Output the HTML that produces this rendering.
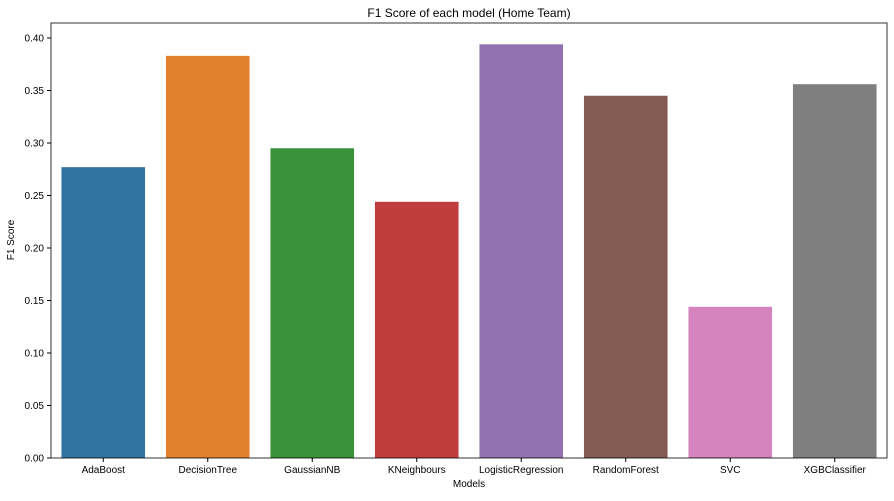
<!DOCTYPE html>
<html><head><meta charset="utf-8"><style>
body{margin:0;background:#fff;font-family:"Liberation Sans",sans-serif}
</style></head><body>
<svg id="chart" width="894" height="496" xmlns="http://www.w3.org/2000/svg">
<rect width="894" height="496" fill="#fff"/>
<text x="469" y="17" font-size="12" text-anchor="middle" fill="#000">F1 Score of each model (Home Team)</text>
<text x="469" y="487" font-size="10" text-anchor="middle">Models</text>
<text transform="translate(14,240) rotate(-90)" font-size="10" text-anchor="middle">F1 Score</text>
<g id="bars"></g><g id="axes"></g>
</svg>
<script>
const categories=["AdaBoost","DecisionTree","GaussianNB","KNeighbours","LogisticRegression","RandomForest","SVC","XGBClassifier"];
const values=[0.277,0.383,0.295,0.244,0.394,0.345,0.144,0.356];
const colors=["#3274a1","#e1812c","#3a923a","#c03d3e","#9372b2","#845b53","#d684bd","#7f7f7f"];
const yTicks=[0,0.05,0.1,0.15,0.2,0.25,0.3,0.35,0.4];
const L=51,R=887,T=23,B=458;
const ns="http://www.w3.org/2000/svg";
const y=v=>B-v/0.4*420;
const slot=(R-L)/categories.length;
const x=i=>L+slot*i+slot/2;
const bars=document.getElementById('bars'),axes=document.getElementById('axes');
function mk(t,a,p){const e=document.createElementNS(ns,t);for(const k in a)e.setAttribute(k,a[k]);p.appendChild(e);return e;}
values.forEach((v,i)=>{
 const r=mk('rect',{x:x(i)-slot*0.4,y:y(v),width:slot*0.8,height:B-y(v),fill:colors[i]},bars);
 
 
 const t=mk('text',{x:x(i),y:B+15,'font-size':10,'text-anchor':'middle'},axes);
 t.textContent=categories[i];
 
 
 mk('line',{x1:x(i),x2:x(i),y1:B,y2:B+4,stroke:'#000'},axes);
});
yTicks.forEach(v=>{
 mk('line',{x1:L-4,x2:L,y1:y(v),y2:y(v),stroke:'#000'},axes);
 const t=mk('text',{x:L-7,y:y(v)+3.5,'font-size':10,'text-anchor':'end'},axes);
 t.textContent=v.toFixed(2);
 
 
});
const f=mk('rect',{x:L,y:T,width:R-L,height:B-T,fill:'none',stroke:'#000','stroke-width':0.8},axes);


</script>
</body></html>
